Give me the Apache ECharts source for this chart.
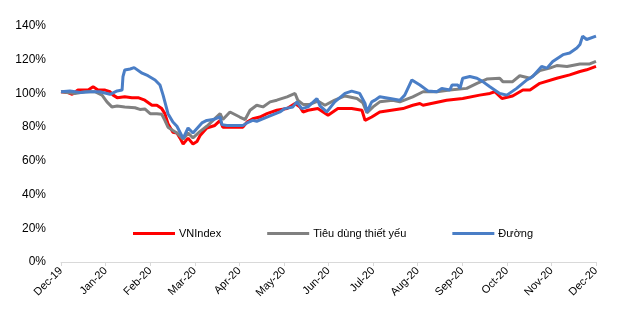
<!DOCTYPE html>
<html><head><meta charset="utf-8">
<script src="https://cdn.jsdelivr.net/npm/echarts@6/dist/echarts.min.js"></script>
<style>html,body{margin:0;padding:0;background:#fff}#c{width:634px;height:331px}</style>
</head><body><div id="c"></div>
<script>
// x = months elapsed since Dec-19 (0 = Dec-19, 12 = Dec-20)
var monthLabels = ['Dec-19','Jan-20','Feb-20','Mar-20','Apr-20','May-20','Jun-20','Jul-20','Aug-20','Sep-20','Oct-20','Nov-20','Dec-20'];
var yTicks = [0,20,40,60,80,100,120,140];
var seriesNames = ['VNIndex','Tiêu dùng thiết yếu','Đường'];

var vnIndex = [[0,101],[0.16,100.5],[0.25,99.5],[0.38,102],[0.61,102],[0.72,104],[0.83,102],[0.99,102],[1.10,101],[1.17,99],[1.26,97.5],[1.43,98],[1.59,97.5],[1.73,97.5],[1.88,96],[2.04,93],[2.15,93],[2.26,91],[2.33,88],[2.40,82],[2.51,77],[2.60,76.5],[2.67,73.5],[2.74,70],[2.78,69.4],[2.85,73.5],[2.96,70],[3.05,71.5],[3.12,75],[3.27,79.5],[3.45,81],[3.57,84],[3.63,80],[3.79,80],[4.08,80],[4.17,83],[4.30,85],[4.46,86],[4.62,88],[4.84,90],[5.07,91],[5.25,94],[5.36,92],[5.43,89],[5.54,90],[5.76,91],[5.99,87],[6.21,91],[6.52,91],[6.75,90],[6.82,84],[6.86,83],[6.97,86],[7.15,89],[7.67,91],[7.89,93],[8.05,94],[8.12,93],[8.65,96],[9.01,97],[9.39,99],[9.62,100],[9.73,101],[9.89,97],[10.13,98.5],[10.36,102],[10.52,102],[10.74,106],[11.12,109],[11.41,111],[11.64,113],[11.79,114],[12,116]];

var tieuDung = [[0,101],[0.31,100],[0.54,101],[0.76,101],[0.92,99],[1.03,95],[1.14,92],[1.26,92.5],[1.43,92],[1.66,91.5],[1.77,90.5],[1.88,90.8],[2.00,88],[2.15,88],[2.26,87.6],[2.33,84],[2.40,80],[2.51,78],[2.60,76.5],[2.74,72.8],[2.85,76.5],[2.96,73.6],[3.12,77.5],[3.27,80.5],[3.41,84],[3.57,88],[3.63,84.5],[3.79,89],[4.01,86],[4.13,84.5],[4.24,90],[4.39,93],[4.53,92],[4.69,95],[4.84,96],[5.07,98],[5.25,100],[5.31,96],[5.43,93.5],[5.58,93.5],[5.76,95.5],[5.92,93],[6.14,96],[6.37,98.5],[6.64,97],[6.77,94.5],[6.86,88.5],[7.00,92],[7.15,95],[7.44,96],[7.60,95],[7.89,98],[8.12,101],[8.43,101],[8.72,102],[9.10,103],[9.33,106],[9.55,108.5],[9.84,109],[9.91,107],[10.13,107],[10.29,110.5],[10.52,109],[10.74,113.5],[10.96,115],[11.12,116.5],[11.35,116],[11.64,117.5],[11.86,117.5],[12,119]];

var duong = [[0,101],[0.20,101.5],[0.43,100.5],[0.65,101],[0.87,101],[1.10,99.5],[1.14,98.6],[1.26,101.5],[1.37,102],[1.39,110],[1.43,113.9],[1.55,114.5],[1.64,115.3],[1.82,112],[1.95,110.5],[2.11,108],[2.22,105],[2.29,99],[2.40,88],[2.51,83],[2.60,80.5],[2.74,73.3],[2.85,79.5],[2.96,76.5],[3.16,82.5],[3.27,84],[3.41,84.5],[3.50,85.4],[3.57,86],[3.61,81.5],[3.72,81],[4.08,81],[4.17,82.5],[4.30,84],[4.39,83.5],[4.62,86],[4.91,89],[5.02,91],[5.20,92],[5.29,95],[5.40,91],[5.54,92],[5.74,97],[5.81,92.6],[5.96,89],[6.14,95],[6.37,100],[6.52,101.4],[6.70,100],[6.82,94],[6.86,89],[6.97,95],[7.04,96],[7.15,98],[7.38,97],[7.60,96],[7.71,99],[7.87,108],[8.05,105],[8.23,101.5],[8.43,101],[8.54,103],[8.72,102],[8.77,105],[8.90,105],[8.95,103],[9.01,109],[9.17,110],[9.33,109],[9.46,107],[9.62,104],[9.84,100],[10.00,99],[10.22,103],[10.45,108],[10.58,110],[10.78,116],[10.90,115],[11.03,119],[11.26,123],[11.41,124],[11.57,127],[11.64,129],[11.70,134],[11.79,132],[12,134]];

var seriesData = [vnIndex, tieuDung, duong];
var colors = ['#ff0000', '#808080', '#4a7ec6'];
var font = '"Liberation Sans Narrow", "Liberation Sans", Arial, sans-serif';

var chart = echarts.init(document.getElementById('c'));
chart.setOption({
  animation: false,
  color: colors,
  grid: {left: 61, right: 38, top: 26, bottom: 69, containLabel: false},
  legend: {
    left: 128, top: 223,
    itemWidth: 42, itemHeight: 3, itemGap: 46,
    icon: 'rect',
    textStyle: {fontFamily: font, fontSize: 11, color: '#000', padding: [0,0,0,-1]},
    data: seriesNames
  },
  xAxis: {
    type: 'value', min: 0, max: 12, interval: 1,
    axisLine: {show: true, lineStyle: {color: '#d9d9d9', width: 1}},
    axisTick: {show: true, length: 4, lineStyle: {color: '#d9d9d9'}},
    splitLine: {show: false},
    axisLabel: {
      rotate: 45, margin: 7, fontFamily: font, fontSize: 11, color: '#000',
      formatter: function (v) { return monthLabels[Math.round(v)] || ''; }
    }
  },
  yAxis: {
    type: 'value', min: yTicks[0], max: yTicks[yTicks.length - 1], interval: 20,
    axisLine: {show: false}, axisTick: {show: false}, splitLine: {show: false},
    axisLabel: {margin: 15, fontFamily: font, fontSize: 12, color: '#000', formatter: '{value}%'}
  },
  series: seriesNames.map(function (n, i) {
    return {
      name: n, type: 'line', data: seriesData[i], showSymbol: false, symbol: 'none',
      lineStyle: {width: 3, color: colors[i]}, itemStyle: {color: colors[i]}
    };
  })
});
</script></body></html>
